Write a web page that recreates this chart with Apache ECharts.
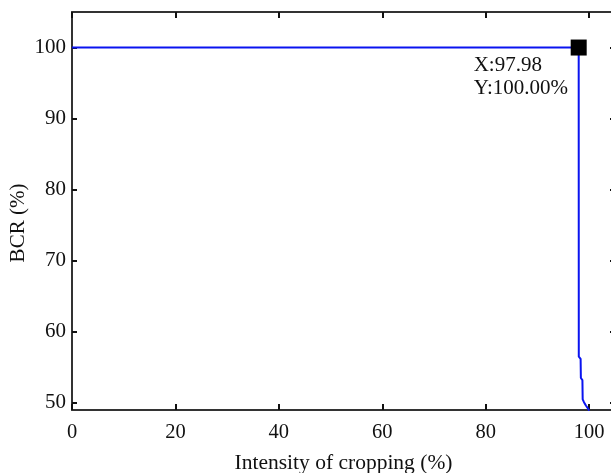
<!DOCTYPE html>
<html>
<head>
<meta charset="utf-8">
<script src="https://cdn.jsdelivr.net/npm/echarts@6/dist/echarts.min.js"></script>
<style>
html,body{margin:0;padding:0;background:#fff;}
#chart{width:611px;height:473px;}
</style>
</head>
<body>
<div id="chart"></div>
<script>
// Data
var curveX = [0, 97.98, 98.0, 98.35, 98.4, 98.7, 98.75, 99.0, 99.4, 99.8, 100];
var curveY = [100, 100, 56.5, 56.2, 53.5, 53.2, 50.5, 50.1, 49.6, 49.2, 48.9];
var markerX = 97.98;
var markerY = 100.00;
var xTicks = [0, 20, 40, 60, 80, 100];
var yTicks = [50, 60, 70, 80, 90, 100];
var xRange = [0, 105];
var yRange = [49, 105];

var FONT = '"Liberation Serif", "DejaVu Serif", serif';
var TXT = '#111';
var AX = '#333';

var lineData = curveX.map(function (x, i) { return [x, curveY[i]]; });

function xAx(pos, showLabel) {
  return {
    type: 'value', position: pos, min: xRange[0], max: xRange[1],
    name: showLabel ? 'Intensity of cropping (%)' : '',
    nameLocation: 'middle', nameGap: 42, nameMoveOverlap: false,
    nameTextStyle: {fontFamily: FONT, fontSize: 21.5, color: TXT},
    axisLine: {show: true, onZero: false, lineStyle: {color: AX, width: 2}},
    axisTick: {show: true, inside: true, length: 6, customValues: xTicks, lineStyle: {color: '#111', width: 2}},
    axisLabel: {show: showLabel, customValues: xTicks, margin: 12, fontFamily: FONT, fontSize: 20.5, color: TXT},
    splitLine: {show: false}
  };
}
function yAx(pos, showLabel) {
  return {
    type: 'value', position: pos, min: yRange[0], max: yRange[1],
    name: showLabel ? 'BCR (%)' : '',
    nameLocation: 'middle', nameGap: 43, nameRotate: 90, nameMoveOverlap: false,
    nameTextStyle: {fontFamily: FONT, fontSize: 21, color: TXT, padding: [0, 24, 0, 0]},
    axisLine: {show: true, onZero: false, lineStyle: {color: AX, width: 2}},
    axisTick: {show: true, inside: true, length: 5, customValues: yTicks, lineStyle: {color: '#111', width: 2}},
    axisLabel: {show: showLabel, customValues: yTicks, margin: 6, fontFamily: FONT, fontSize: 21, color: TXT},
    splitLine: {show: false}
  };
}

var chart = echarts.init(document.getElementById('chart'), null, {renderer: 'canvas'});
chart.setOption({
  animation: false,
  backgroundColor: '#fff',
  grid: {left: 72, top: 12, right: -4, bottom: 63, containLabel: false, outerBoundsMode: 'none'},
  xAxis: [xAx('bottom', true), xAx('top', false)],
  yAxis: [yAx('left', true), yAx('right', false)],
  series: [
    {
      type: 'line', xAxisIndex: 0, yAxisIndex: 0,
      data: lineData, symbol: 'none', clip: true,
      lineStyle: {color: '#0a14f0', width: 2}
    },
    {
      type: 'scatter', xAxisIndex: 0, yAxisIndex: 0,
      data: [[markerX, markerY]],
      symbol: 'rect', symbolSize: 16,
      itemStyle: {color: '#000', opacity: 1},
      z: 5,
      label: {
        show: true,
        position: [-97, 14],
        align: 'left', verticalAlign: 'top',
        fontFamily: FONT, fontSize: 21, lineHeight: 23, color: '#111',
        textBorderWidth: 0,
        formatter: function () {
          return 'X:' + markerX.toFixed(2) + '\nY:' + markerY.toFixed(2) + '%';
        }
      }
    }
  ]
});
</script>
</body>
</html>
